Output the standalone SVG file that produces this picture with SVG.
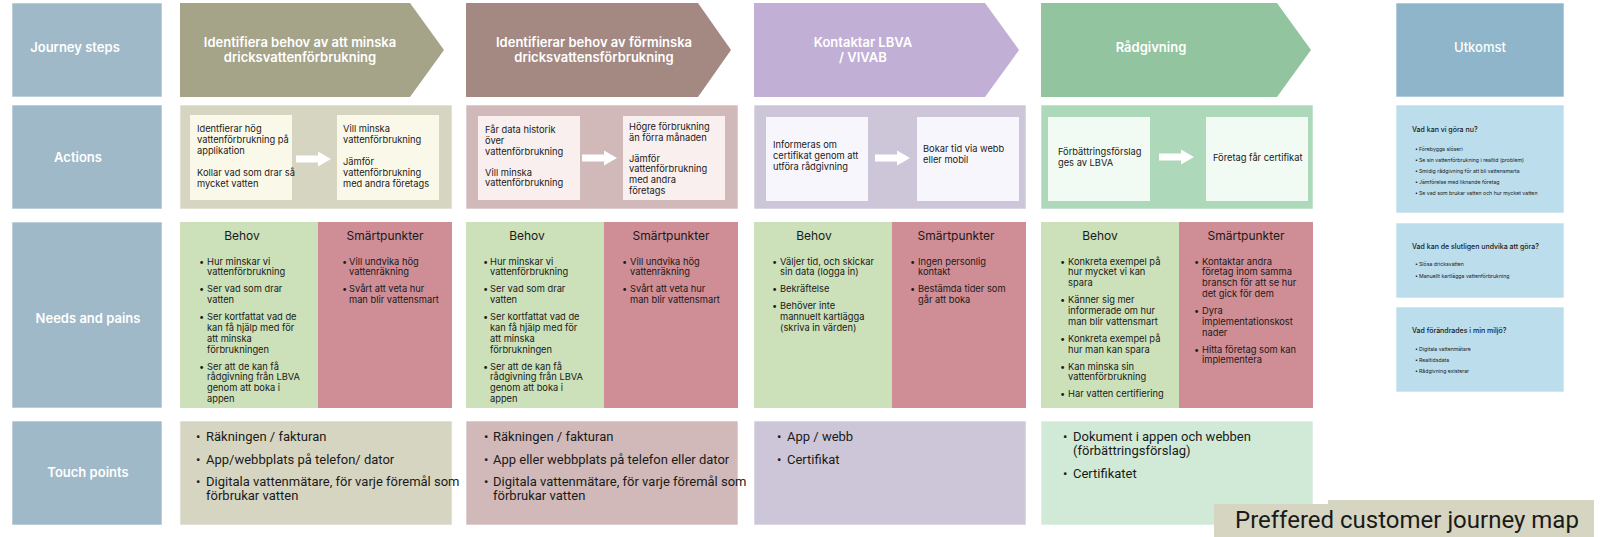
<svg xmlns="http://www.w3.org/2000/svg" width="1600" height="537" viewBox="0 0 1600 537">
<defs>
<path id="arr" d="M0,-3.5H22V-7.5L35,0L22,7.5V3.5H0Z" fill="#ffffff"/>
</defs>
<style>
text{font-family:Inter,"Noto Sans","Liberation Sans",sans-serif;fill:#1a1a1a}
.box{stroke:#ffffff;stroke-opacity:0.6;stroke-width:1}
.lbl{fill:#A0B9C8}
.lt{font-size:13px;font-weight:600;fill:#ffffff;text-anchor:middle}
.t{font-size:9.3px}
.h{font-size:12px;text-anchor:middle}
.tp{font-family:Roboto,"Liberation Sans",sans-serif;font-size:13px}
.ut{font-size:7px;font-weight:500}
.ub{font-size:5.2px}
.g{fill:#CCE0B9}
.r{fill:#CF8D95}
.ubox{fill:#BCDDEC}
.s1c{fill:#A5A489}.s1a{fill:#D6D5C2}.s1i{fill:#FAF8E9}
.s2c{fill:#A48882}.s2a{fill:#D0B9B8}.s2i{fill:#F9EFEE}
.s3c{fill:#C2AFD6}.s3a{fill:#CDC6D8}.s3i{fill:#F8F6FD}
.s4c{fill:#93C4A0}.s4a{fill:#ADD8BA}.s4t{fill:#D1EAD8}.s4i{fill:#F1FBF4}
</style>

<g id="row-labels">
<g id="label-journey"><rect class="box lbl" x="12" y="3" width="150" height="94"/><text class="lt" x="75" y="51.5">Journey steps</text></g>
<g id="label-actions"><rect class="box lbl" x="12" y="105" width="150" height="104"/><text class="lt" x="78" y="161.5">Actions</text></g>
<g id="label-needs"><rect class="box lbl" x="12" y="222" width="150" height="186"/><text class="lt" x="88" y="322.5">Needs and pains</text></g>
<g id="label-touch"><rect class="box lbl" x="12" y="421" width="150" height="104"/><text class="lt" x="88" y="477">Touch points</text></g>
</g>

<g id="stage1">
<g id="step1"><path class="s1c" d="M180,3H410L444,50L410,97H180Z"/>
<text class="lt" x="300" y="46.5">Identifiera behov av att minska</text>
<text class="lt" x="300" y="61.5">dricksvattenförbrukning</text></g>
<g id="actions1"><rect class="box s1a" x="180" y="105" width="272" height="104"/>
<rect class="s1i" x="190" y="115" width="102" height="85"/>
<rect class="s1i" x="337" y="115" width="102" height="85"/>
<text class="t" x="197" y="132.3">Identfierar hög</text>
<text class="t" x="197" y="143.1">vattenförbrukning på</text>
<text class="t" x="197" y="153.9">applikation</text>
<text class="t" x="197" y="175.7">Kollar vad som drar så</text>
<text class="t" x="197" y="186.5">mycket vatten</text>
<text class="t" x="343" y="132.3">Vill minska</text>
<text class="t" x="343" y="143.1">vattenförbrukning</text>
<text class="t" x="343" y="164.9">Jämför</text>
<text class="t" x="343" y="175.7">vattenförbrukning</text>
<text class="t" x="343" y="186.5">med andra företags</text></g>
<g id="needs1"><rect class="g" x="180" y="222" width="138" height="186"/><rect class="r" x="318" y="222" width="134" height="186"/>
<text class="h" x="242" y="240">Behov</text>
<text class="h" x="385" y="240">Smärtpunkter</text>
<text class="t" x="199" y="264.5">•</text><text class="t" x="207" y="264.5">Hur minskar vi</text>
<text class="t" x="207" y="275.3">vattenförbrukning</text>
<text class="t" x="199" y="292.3">•</text><text class="t" x="207" y="292.3">Ser vad som drar</text>
<text class="t" x="207" y="303.1">vatten</text>
<text class="t" x="199" y="320.1">•</text><text class="t" x="207" y="320.1">Ser kortfattat vad de</text>
<text class="t" x="207" y="330.9">kan få hjälp med för</text>
<text class="t" x="207" y="341.7">att minska</text>
<text class="t" x="207" y="352.5">förbrukningen</text>
<text class="t" x="199" y="369.5">•</text><text class="t" x="207" y="369.5">Ser att de kan få</text>
<text class="t" x="207" y="380.3">rådgivning från LBVA</text>
<text class="t" x="207" y="391.1">genom att boka i</text>
<text class="t" x="207" y="401.9">appen</text>
<text class="t" x="342" y="264.5">•</text><text class="t" x="349" y="264.5">Vill undvika hög</text>
<text class="t" x="349" y="275.3">vattenräkning</text>
<text class="t" x="342" y="292.3">•</text><text class="t" x="349" y="292.3">Svårt att veta hur</text>
<text class="t" x="349" y="303.1">man blir vattensmart</text></g>
<g id="touch1"><rect class="box s1a" x="180" y="421" width="272" height="104"/>
<text class="tp" x="196" y="441">•</text><text class="tp" x="206" y="441">Räkningen / fakturan</text>
<text class="tp" x="196" y="464">•</text><text class="tp" x="206" y="464">App/webbplats på telefon/ dator</text>
<text class="tp" x="196" y="486">•</text><text class="tp" x="206" y="486">Digitala vattenmätare, för varje föremål som</text>
<text class="tp" x="206" y="500">förbrukar vatten</text></g>
</g>

<g id="stage2">
<g id="step2"><path class="s2c" d="M466,3H698L731,50L698,97H466Z"/>
<text class="lt" x="594" y="46.5">Identifierar behov av förminska</text>
<text class="lt" x="594" y="61.5">dricksvattensförbrukning</text></g>
<g id="actions2"><rect class="box s2a" x="466" y="105" width="272" height="104"/>
<rect class="s2i" x="478" y="116" width="102" height="84"/>
<rect class="s2i" x="623" y="116" width="102" height="84"/>
<text class="t" x="485" y="133.3">Får data historik</text>
<text class="t" x="485" y="144.1">över</text>
<text class="t" x="485" y="154.9">vattenförbrukning</text>
<text class="t" x="485" y="175.5">Vill minska</text>
<text class="t" x="485" y="186.3">vattenförbrukning</text>
<text class="t" x="629" y="130.3">Högre förbrukning</text>
<text class="t" x="629" y="141.1">än förra månaden</text>
<text class="t" x="629" y="161.5">Jämför</text>
<text class="t" x="629" y="172.3">vattenförbrukning</text>
<text class="t" x="629" y="183.1">med andra</text>
<text class="t" x="629" y="193.9">företags</text></g>
<g id="needs2"><rect class="g" x="466" y="222" width="138" height="186"/><rect class="r" x="604" y="222" width="134" height="186"/>
<text class="h" x="527" y="240">Behov</text>
<text class="h" x="671" y="240">Smärtpunkter</text>
<text class="t" x="483" y="264.5">•</text><text class="t" x="490" y="264.5">Hur minskar vi</text>
<text class="t" x="490" y="275.3">vattenförbrukning</text>
<text class="t" x="483" y="292.3">•</text><text class="t" x="490" y="292.3">Ser vad som drar</text>
<text class="t" x="490" y="303.1">vatten</text>
<text class="t" x="483" y="320.1">•</text><text class="t" x="490" y="320.1">Ser kortfattat vad de</text>
<text class="t" x="490" y="330.9">kan få hjälp med för</text>
<text class="t" x="490" y="341.7">att minska</text>
<text class="t" x="490" y="352.5">förbrukningen</text>
<text class="t" x="483" y="369.5">•</text><text class="t" x="490" y="369.5">Ser att de kan få</text>
<text class="t" x="490" y="380.3">rådgivning från LBVA</text>
<text class="t" x="490" y="391.1">genom att boka i</text>
<text class="t" x="490" y="401.9">appen</text>
<text class="t" x="622" y="264.5">•</text><text class="t" x="630" y="264.5">Vill undvika hög</text>
<text class="t" x="630" y="275.3">vattenräkning</text>
<text class="t" x="622" y="292.3">•</text><text class="t" x="630" y="292.3">Svårt att veta hur</text>
<text class="t" x="630" y="303.1">man blir vattensmart</text></g>
<g id="touch2"><rect class="box s2a" x="466" y="421" width="272" height="104"/>
<text class="tp" x="484" y="441">•</text><text class="tp" x="493" y="441">Räkningen / fakturan</text>
<text class="tp" x="484" y="464">•</text><text class="tp" x="493" y="464">App eller webbplats på telefon eller dator</text>
<text class="tp" x="484" y="486">•</text><text class="tp" x="493" y="486">Digitala vattenmätare, för varje föremål som</text>
<text class="tp" x="493" y="500">förbrukar vatten</text></g>
</g>

<g id="stage3">
<g id="step3"><path class="s3c" d="M754,3H985L1019,50L985,97H754Z"/>
<text class="lt" x="863" y="46.5">Kontaktar LBVA</text>
<text class="lt" x="863" y="61.5">/ VIVAB</text></g>
<g id="actions3"><rect class="box s3a" x="754" y="105" width="272" height="104"/>
<rect class="s3i" x="766" y="117" width="102" height="84"/>
<rect class="s3i" x="917" y="117" width="102" height="84"/>
<text class="t" x="773" y="148.3">Informeras om</text>
<text class="t" x="773" y="159.1">certifikat genom att</text>
<text class="t" x="773" y="169.9">utföra rådgivning</text>
<text class="t" x="923" y="152.3">Bokar tid via webb</text>
<text class="t" x="923" y="163.1">eller mobil</text></g>
<g id="needs3"><rect class="g" x="754" y="222" width="138" height="186"/><rect class="r" x="892" y="222" width="134" height="186"/>
<text class="h" x="814" y="240">Behov</text>
<text class="h" x="956" y="240">Smärtpunkter</text>
<text class="t" x="772" y="264.5">•</text><text class="t" x="780" y="264.5">Väljer tid, och skickar</text>
<text class="t" x="780" y="275.3">sin data (logga in)</text>
<text class="t" x="772" y="292.3">•</text><text class="t" x="780" y="292.3">Bekräftelse</text>
<text class="t" x="772" y="309.3">•</text><text class="t" x="780" y="309.3">Behöver inte</text>
<text class="t" x="780" y="320.1">mannuelt kartlägga</text>
<text class="t" x="780" y="330.9">(skriva in värden)</text>
<text class="t" x="910" y="264.5">•</text><text class="t" x="918" y="264.5">Ingen personlig</text>
<text class="t" x="918" y="275.3">kontakt</text>
<text class="t" x="910" y="292.3">•</text><text class="t" x="918" y="292.3">Bestämda tider som</text>
<text class="t" x="918" y="303.1">går att boka</text></g>
<g id="touch3"><rect class="box s3a" x="754" y="421" width="272" height="104"/>
<text class="tp" x="777" y="441">•</text><text class="tp" x="787" y="441">App / webb</text>
<text class="tp" x="777" y="464">•</text><text class="tp" x="787" y="464">Certifikat</text></g>
</g>

<g id="stage4">
<g id="step4"><path class="s4c" d="M1041,3H1277L1311,50L1277,97H1041Z"/>
<text class="lt" x="1151" y="51.5">Rådgivning</text></g>
<g id="actions4"><rect class="box s4a" x="1041" y="105" width="272" height="104"/>
<rect class="s4i" x="1048" y="117" width="102" height="84"/>
<rect class="s4i" x="1206" y="117" width="102" height="84"/>
<text class="t" x="1058" y="155.3">Förbättringsförslag</text>
<text class="t" x="1058" y="166.1">ges av LBVA</text>
<text class="t" x="1213" y="161.3">Företag får certifikat</text></g>
<g id="needs4"><rect class="g" x="1041" y="222" width="138" height="186"/><rect class="r" x="1179" y="222" width="134" height="186"/>
<text class="h" x="1100" y="240">Behov</text>
<text class="h" x="1246" y="240">Smärtpunkter</text>
<text class="t" x="1060" y="264.5">•</text><text class="t" x="1068" y="264.5">Konkreta exempel på</text>
<text class="t" x="1068" y="275.3">hur mycket vi kan</text>
<text class="t" x="1068" y="286.1">spara</text>
<text class="t" x="1060" y="303.1">•</text><text class="t" x="1068" y="303.1">Känner sig mer</text>
<text class="t" x="1068" y="313.9">informerade om hur</text>
<text class="t" x="1068" y="324.7">man blir vattensmart</text>
<text class="t" x="1060" y="341.7">•</text><text class="t" x="1068" y="341.7">Konkreta exempel på</text>
<text class="t" x="1068" y="352.5">hur man kan spara</text>
<text class="t" x="1060" y="369.5">•</text><text class="t" x="1068" y="369.5">Kan minska sin</text>
<text class="t" x="1068" y="380.3">vattenförbrukning</text>
<text class="t" x="1060" y="397.3">•</text><text class="t" x="1068" y="397.3">Har vatten certifiering</text>
<text class="t" x="1194" y="264.5">•</text><text class="t" x="1202" y="264.5">Kontaktar andra</text>
<text class="t" x="1202" y="275.3">företag inom samma</text>
<text class="t" x="1202" y="286.1">bransch för att se hur</text>
<text class="t" x="1202" y="296.9">det gick för dem</text>
<text class="t" x="1194" y="313.9">•</text><text class="t" x="1202" y="313.9">Dyra</text>
<text class="t" x="1202" y="324.7">implementationskost</text>
<text class="t" x="1202" y="335.5">nader</text>
<text class="t" x="1194" y="352.5">•</text><text class="t" x="1202" y="352.5">Hitta företag som kan</text>
<text class="t" x="1202" y="363.3">implementera</text></g>
<g id="touch4"><rect class="box s4t" x="1041" y="421" width="272" height="104"/>
<text class="tp" x="1063" y="441">•</text><text class="tp" x="1073" y="441">Dokument i appen och webben</text>
<text class="tp" x="1073" y="455">(förbättringsförslag)</text>
<text class="tp" x="1063" y="478">•</text><text class="tp" x="1073" y="478">Certifikatet</text></g>
</g>

<g id="outcome">
<g id="outcome-head"><rect class="box" fill="#8EB5C9" x="1396" y="3" width="168" height="94"/>
<text class="lt" style="font-weight:500" x="1480" y="51.5">Utkomst</text></g>
<g id="outcome-now"><rect class="box ubox" x="1396" y="105" width="168" height="108"/>
<text class="ut" x="1412" y="131.5">Vad kan vi göra nu?</text>
<text class="ub" x="1415" y="150.8">•</text><text class="ub" x="1419" y="150.8">Förebygga slöseri</text>
<text class="ub" x="1415" y="161.8">•</text><text class="ub" x="1419" y="161.8">Se sin vattenförbrukning i realtid (problem)</text>
<text class="ub" x="1415" y="172.8">•</text><text class="ub" x="1419" y="172.8">Smidig rådgivning för att bli vattensmarta</text>
<text class="ub" x="1415" y="183.8">•</text><text class="ub" x="1419" y="183.8">Jämförelse med liknande företag</text>
<text class="ub" x="1415" y="194.8">•</text><text class="ub" x="1419" y="194.8">Se vad som brukar vatten och hur mycket vatten</text></g>
<g id="outcome-avoid"><rect class="box ubox" x="1396" y="223" width="168" height="75"/>
<text class="ut" x="1412" y="248.5">Vad kan de slutligen undvika att göra?</text>
<text class="ub" x="1415" y="265.8">•</text><text class="ub" x="1419" y="265.8">Slösa dricksvatten</text>
<text class="ub" x="1415" y="277.8">•</text><text class="ub" x="1419" y="277.8">Manuellt kartlägga vattenförbrukning</text></g>
<g id="outcome-change"><rect class="box ubox" x="1396" y="307" width="168" height="85"/>
<text class="ut" x="1412" y="332.5">Vad förändrades i min miljö?</text>
<text class="ub" x="1415" y="350.8">•</text><text class="ub" x="1419" y="350.8">Digitala vattenmätare</text>
<text class="ub" x="1415" y="361.8">•</text><text class="ub" x="1419" y="361.8">Realtidsdata</text>
<text class="ub" x="1415" y="372.8">•</text><text class="ub" x="1419" y="372.8">Rådgivning existerar</text></g>
</g>

<g id="connectors">
<use href="#arr" x="296" y="159"/>
<use href="#arr" x="582" y="158"/>
<use href="#arr" x="875" y="158"/>
<use href="#arr" x="1159" y="157"/>
</g>

<g id="caption">
<path fill="#D6D5C2" d="M1214,504H1328V500H1594V537H1214Z"/>
<text style="font-family:Roboto,'Liberation Sans',sans-serif;font-size:24px" x="1235" y="528">Preffered customer journey map</text>
</g>
</svg>
